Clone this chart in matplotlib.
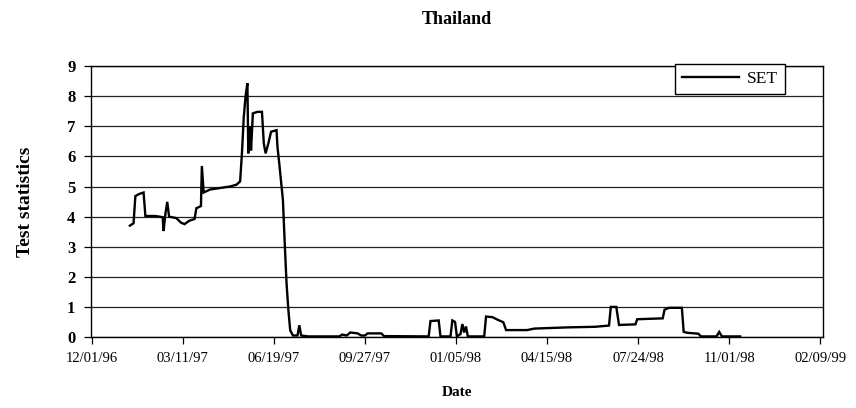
import matplotlib
matplotlib.use("Agg")
import matplotlib.pyplot as plt
import matplotlib.dates as mdates
import pandas as pd
import numpy as np

start_date = "1996-12-01"
# days since 12/01/96
day_offsets = [42, 46, 48, 52, 57, 59, 70, 78, 79, 81, 83, 85, 93, 98, 102, 107, 113, 115, 118, 120,
               121, 123, 130, 152, 159, 163, 165, 167, 169, 171, 172, 174, 175, 177, 182, 187, 189,
               191, 194, 197, 203, 204, 206, 210, 212, 214, 216, 218, 221, 226, 228, 230, 238, 272,
               275, 280, 284, 292, 296, 300, 303, 318, 321, 370, 372, 381, 383, 394, 396, 399, 401,
               405, 407, 409, 411, 413, 431, 433, 440, 446, 452, 455, 478, 486, 523, 553, 568, 570,
               576, 579, 597, 599, 627, 629, 634, 648, 650, 654, 666, 669, 686, 689, 692, 712]
set_values = [3.70, 3.78, 4.68, 4.75, 4.80, 4.02, 4.02, 3.98, 3.52, 4.10, 4.49, 4.00, 3.95, 3.80, 3.75,
              3.86, 3.92, 4.28, 4.32, 4.35, 5.68, 4.80, 4.90, 5.00, 5.06, 5.17, 6.10, 7.30, 8.00, 8.43,
              6.10, 7.00, 6.20, 7.43, 7.48, 7.48, 6.43, 6.10, 6.43, 6.82, 6.87, 6.32, 5.76, 4.55, 3.10,
              1.77, 0.89, 0.22, 0.05, 0.05, 0.39, 0.05, 0.02, 0.02, 0.08, 0.05, 0.15, 0.12, 0.05, 0.05,
              0.12, 0.12, 0.03, 0.02, 0.53, 0.55, 0.02, 0.02, 0.55, 0.50, 0.02, 0.10, 0.43, 0.15, 0.35,
              0.02, 0.02, 0.68, 0.66, 0.57, 0.49, 0.23, 0.23, 0.28, 0.32, 0.34, 0.38, 1.00, 1.00, 0.40,
              0.42, 0.59, 0.62, 0.91, 0.97, 0.97, 0.17, 0.14, 0.11, 0.02, 0.02, 0.17, 0.02, 0.02]
tick_step_days = 100
n_ticks = 9
y_ticks = list(range(0, 10))

base = pd.Timestamp(start_date)
dates = base + pd.to_timedelta(day_offsets, unit="D")
tick_dates = [base + pd.Timedelta(days=tick_step_days * i) for i in range(n_ticks)]

serif = ["Liberation Serif", "DejaVu Serif"]
plt.rcParams["font.family"] = serif

fig = plt.figure(figsize=(8.56, 4.08), dpi=100)
ax = fig.add_axes([0.106, 0.174, 0.8555, 0.664])

ax.plot(dates, set_values, color="black", lw=1.7, label="SET", solid_joinstyle="miter")

ax.set_xlim(base - pd.Timedelta(days=1), tick_dates[-1] + pd.Timedelta(days=3))
ax.set_ylim(0, 9)
ax.set_yticks(y_ticks)
ax.set_xticks(tick_dates)
ax.xaxis.set_major_formatter(mdates.DateFormatter("%m/%d/%y"))

ax.yaxis.grid(True, color="#222222", lw=0.9)
ax.set_axisbelow(True)
for s in ax.spines.values():
    s.set_color("black")
    s.set_linewidth(1.0)

ax.tick_params(axis="both", direction="out", length=5, width=0.9, color="black")
ax.tick_params(axis="x", labelsize=10.5, pad=6)
ax.tick_params(axis="y", labelsize=12, pad=6)
for lab in ax.get_yticklabels():
    lab.set_fontweight("bold")

ax.set_title("Thailand", fontsize=13, fontweight="bold", pad=30)
ax.set_xlabel("Date", fontsize=11, fontweight="bold", labelpad=15)
ax.set_ylabel("Test statistics", fontsize=14, fontweight="bold", labelpad=24)

leg = ax.legend(loc="upper right", bbox_to_anchor=(0.948, 1.007), borderaxespad=0,
                fancybox=False, edgecolor="black", framealpha=1, fontsize=12.5,
                handlelength=3.3, handletextpad=0.45, borderpad=0.4)
leg.get_frame().set_linewidth(1.0)

fig.savefig("out.png", dpi=100)
